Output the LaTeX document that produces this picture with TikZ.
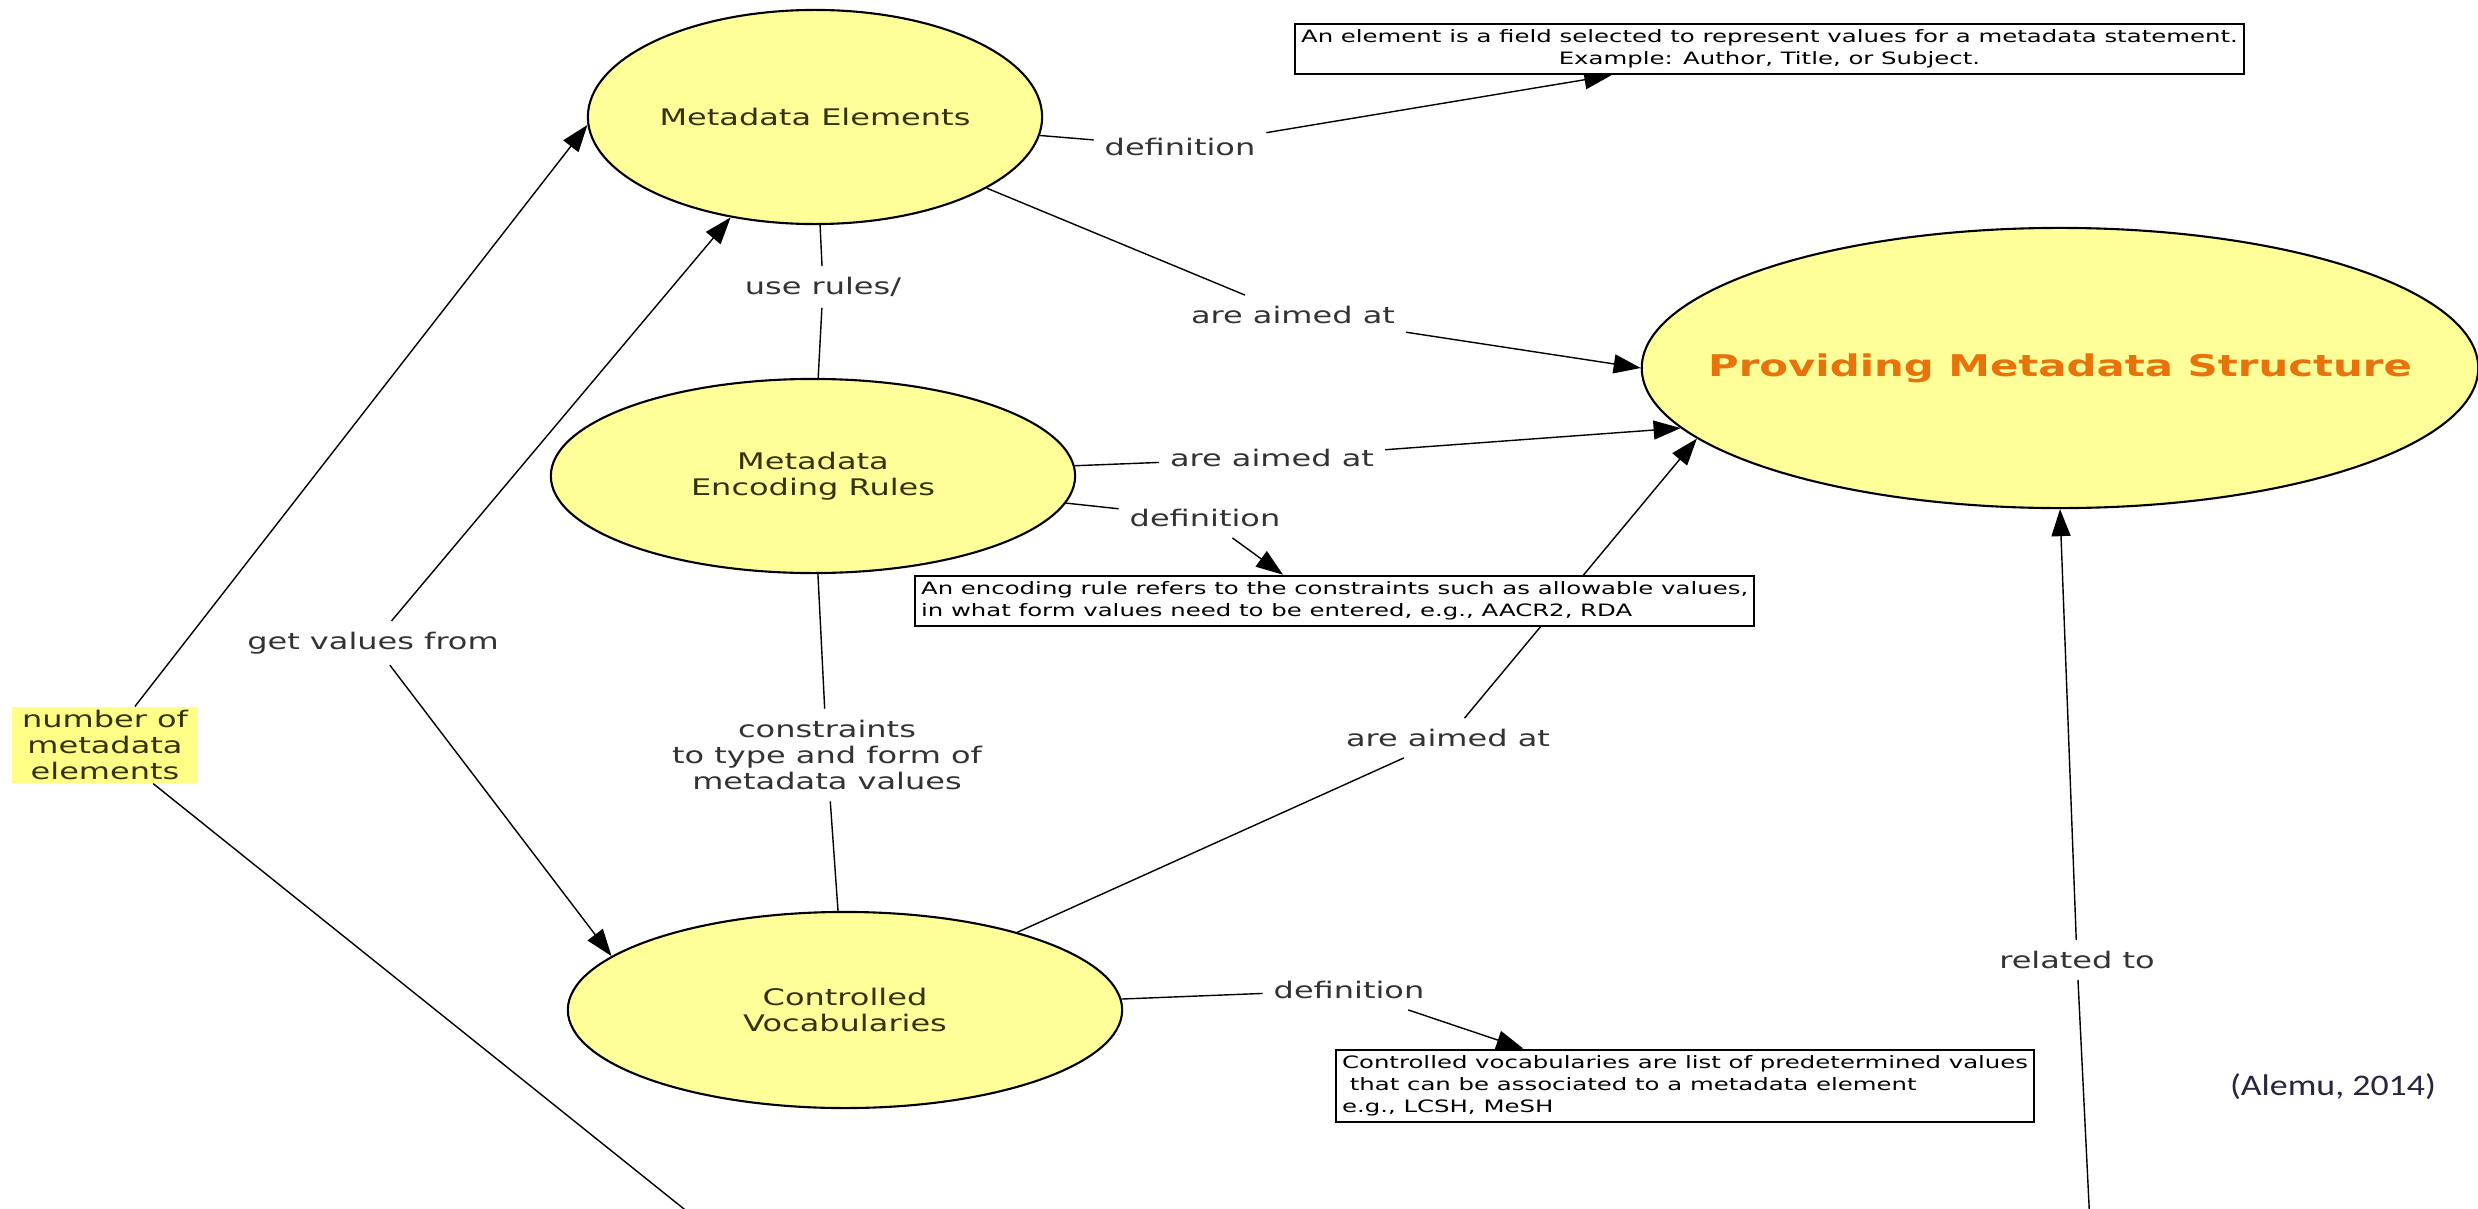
\documentclass[tikz,border=0pt]{standalone}
\usepackage{fontspec}
\setmainfont{DejaVu Sans}[FakeStretch=1.4]
\newfontfamily\notefont{DejaVu Sans}[FakeStretch=1.43]
\newfontfamily\citefont{Carlito}[FakeStretch=1.2]
\usepackage{tikz}
\usetikzlibrary{shapes.geometric,arrows.meta,positioning,backgrounds}
\definecolor{conceptfill}{HTML}{FFFF99}
\definecolor{countfill}{HTML}{FFFF88}
\definecolor{goalorange}{HTML}{E8720C}
\definecolor{linkgrey}{HTML}{333333}
\definecolor{conceptink}{HTML}{333300}
\definecolor{citeink}{HTML}{262640}
\tikzset
{
  concept/.style  = {ellipse, draw=black, fill=conceptfill, line width=0.6pt, inner sep=0pt, align=center, text=conceptink, font=\fontsize{6.5}{7.5}\selectfont},
  goal/.style     = {text=goalorange, font=\bfseries\fontsize{8.5}{10}\selectfont},
  linkword/.style = {inner sep=1mm, align=center, text=linkgrey, font=\fontsize{6.5}{7.5}\selectfont},
  countbox/.style = {fill=countfill, inner sep=0pt, align=center, text=conceptink, minimum width=1.85cm, minimum height=0.75cm, font=\fontsize{6.5}{7.5}\selectfont},
  notebox/.style  = {rectangle, draw=black, fill=white, line width=0.6pt, inner sep=0.6mm, font=\notefont\fontsize{4.85}{6.25}\selectfont},
  citation/.style = {text=citeink, font=\citefont\fontsize{8.5}{10}\selectfont}
}
\begin{document}
\begin{tikzpicture}[x=0.01cm, y=-0.01cm, >={Triangle[length=2.7mm, width=1.9mm]}, line width=0.6pt]
  \useasboundingbox (0,0) rectangle (2478,1209);
  \node [concept, minimum width=4.54cm, minimum height=2.14cm] (me) at (815,117) {Metadata Elements};
  \node [concept, minimum width=5.24cm, minimum height=1.94cm] (mer) at (813,476) {Metadata\\Encoding Rules};
  \node [concept, minimum width=5.54cm, minimum height=1.96cm] (cv) at (845,1010) {Controlled\\Vocabularies};
  \node [concept, minimum width=8.36cm, minimum height=2.80cm, label={[goal]center:Providing Metadata Structure}] (pms) at (2060,368) {};
  \node [countbox] (nme) at (105,745) {number of\\metadata\\elements};

  \node [notebox, align=center, anchor=west] (box1) at (1294,49) {An element is a field selected to represent values for a metadata statement.\\Example: Author, Title, or Subject.};
  \node [notebox, align=left, anchor=west] (box2) at (914,601) {An encoding rule refers to the constraints such as allowable values,\\in what form values need to be entered, e.g., AACR2, RDA};
  \node [notebox, align=left, anchor=west] (box3) at (1335,1086) {Controlled vocabularies are list of predetermined values\\\ that can be associated to a metadata element\\e.g., LCSH, MeSH};

  \node [linkword] (ldef1) at (1180,147) {definition};
  \node [linkword] (luse) at (823,287) {use rules/};
  \node [linkword] (laim1) at (1293,315) {are aimed at};
  \node [linkword] (laim2) at (1272,458) {are aimed at};
  \node [linkword] (ldef2) at (1205,518) {definition};
  \node [linkword] (lcon) at (827,755) {constraints\\to type and form of\\metadata values};
  \node [linkword] (laim3) at (1448,738) {are aimed at};
  \node [linkword] (lget) at (373,643) {get values from};
  \node [linkword] (ldef3) at (1349,990) {definition};
  \node [linkword] (lrel) at (2077,960) {related to};
  \node [citation] (cite) at (2333,1087) {(Alemu, 2014)};

  \coordinate (nmeout) at (704,1225);
  \coordinate (relout) at (2090,1225);

  \begin{scope}[on background layer]
    \fill [white] (0,0) rectangle (2478,1209);
    \draw (me) -- (ldef1);
    \draw [->] (ldef1) -- (box1);
    \draw (me) -- (luse) -- (mer);
    \draw (me) -- (laim1);
    \draw [->] (laim1) -- (pms.west);
    \draw (mer) -- (laim2);
    \draw [->] (laim2) -- (pms.189.5);
    \draw (mer) -- (ldef2);
    \draw [->] (ldef2) -- (box2.153);
    \draw (mer) -- (lcon) -- (cv);
    \draw (cv) -- (laim3);
    \draw [->] (laim3) -- (pms.191);
    \draw (cv) -- (ldef3);
    \draw [->] (ldef3) -- (box3.167);
    \draw [->] (lget) -- (me);
    \draw [->] (lget) -- (cv.167);
    \draw [->] (nme) -- (me.182);
    \draw (nme) -- (nmeout);
    \draw (relout) -- (lrel);
    \draw [->] (lrel) -- (pms.south);
  \end{scope}
\end{tikzpicture}
\end{document}
